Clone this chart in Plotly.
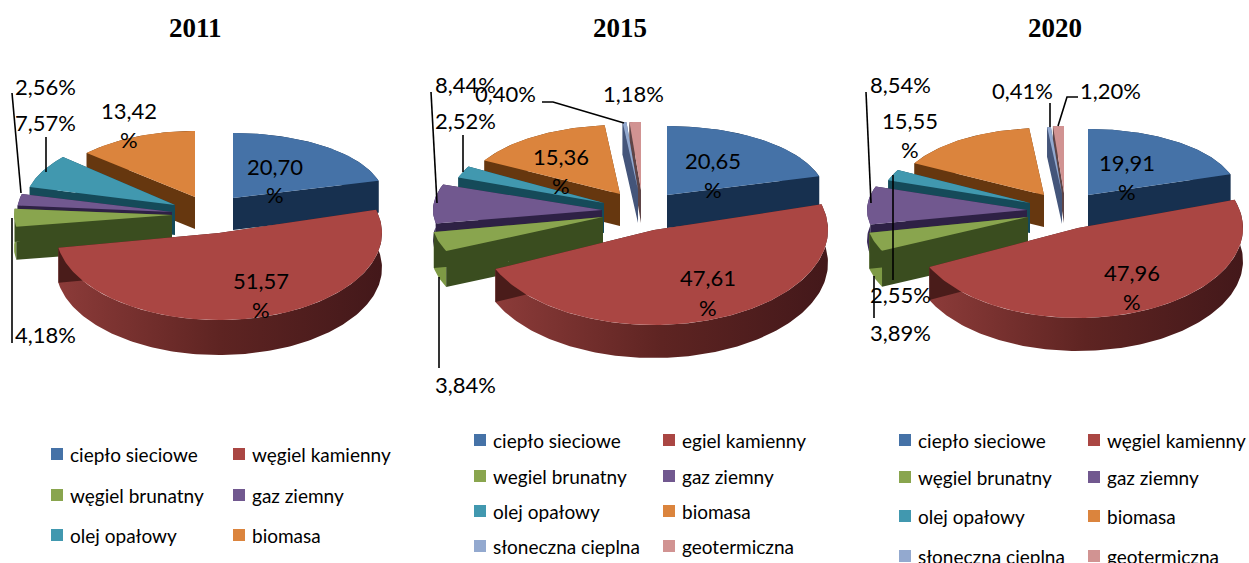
import math
import plotly.graph_objects as go

TITLES = ["2011", "2015", "2020"]
CATS_2011 = ["ciepło sieciowe", "węgiel kamienny", "węgiel brunatny", "gaz ziemny", "olej opałowy", "biomasa"]
CATS_2015 = ["ciepło sieciowe", "egiel kamienny", "wegiel brunatny", "gaz ziemny", "olej opałowy", "biomasa",
             "słoneczna cieplna", "geotermiczna"]
CATS_2020 = ["ciepło sieciowe", "węgiel kamienny", "węgiel brunatny", "gaz ziemny", "olej opałowy", "biomasa",
             "słoneczna cieplna", "geotermiczna"]
VALUES_2011 = [20.70, 51.57, 4.18, 2.56, 7.57, 13.42]
VALUES_2015 = [20.65, 47.61, 3.84, 8.44, 2.52, 15.36, 0.40, 1.18]
VALUES_2020 = [19.91, 47.96, 3.89, 8.54, 2.55, 15.55, 0.41, 1.20]

TOP = ["#4572A7", "#AA4643", "#89A54E", "#71588F", "#4198AF", "#DB843D", "#93A9CF", "#D19392"]
DARK = ["#17304F", "#4A1C1A", "#3A4D1F", "#2E2145", "#154A59", "#66370F", "#44557A", "#5E4446"]
ARC = ["#17304F", None, "#7E9A45", "#3B2C58", "#1D5566", "#66370F", "#44557A", "#5E4446"]
RED_GRADIENT = [[0, "#8C3B39"], [0.5, "#5E2422"], [1, "#43181A"]]

# per slice projection: centre x, centre y, radius x, radius y, depth (perspective differs by slice)
GEOM = {
    "2011": [(233, 198, 151, 65, 32), (219, 233, 163, 87, 35), (172, 215, 158, 69, 33),
             (172, 212, 155, 72, 30), (175, 205, 150, 72, 30), (195, 197, 145, 66, 32)],
    "2015": [(667, 195, 158, 69, 33), (654, 230, 174, 95, 33), (603, 217, 172, 83, 36),
             (602, 210, 169, 75, 30), (604, 203, 155, 75, 30), (620, 194, 155, 69, 32),
             (638, 190, 155, 68, 33), (641, 190, 155, 68, 33)],
    "2020": [(1088, 195, 150, 66, 32), (1078, 228, 165, 90, 33), (1028, 217, 162, 78, 36),
             (1027, 210, 160, 72, 30), (1030, 203, 150, 70, 30), (1044, 195, 147, 67, 32),
             (1062, 194, 147, 67, 30), (1064, 193, 147, 67, 30)],
}
ORDER = {"2011": [5, 4, 3, 2, 0, 1], "2015": [7, 6, 5, 4, 3, 2, 0, 1], "2020": [7, 6, 5, 4, 3, 2, 0, 1]}
TITLE_X = [195, 620, 1055]
TITLE_Y = 28
# label anchor: (x, y) of the number, y of a wrapped "%" or None when on the same line
LABELS = {
    "2011": [(275, 166, 194), (261, 280, 309), (45, 334, None), (45, 86, None), (45, 122, None), (129, 110, 139)],
    "2015": [(713, 160, 189), (708, 277, 307), (465, 384, None), (465, 84, None), (465, 120, None), (561, 156, 185),
             (505, 93, None), (633, 93, None)],
    "2020": [(1127, 162, 191), (1132, 272, 301), (900, 332, None), (900, 84, None), (900, 294, None), (910, 120, 149),
             (1022, 90, None), (1110, 90, None)],
}
LEADERS = {
    "2011": [[(12, 93), (21, 193)], [(46, 137), (46, 172)], [(12, 218), (12, 343)]],
    "2015": [[(431, 92), (437, 203)], [(463, 135), (463, 172)], [(542, 102), (553, 102), (624, 123)],
             [(439, 277), (439, 368)]],
    "2020": [[(866, 92), (871, 203)], [(893, 175), (893, 280)], [(874, 276), (874, 318)],
             [(1050, 103), (1050, 127)], [(1078, 97), (1067, 97), (1058, 126)]],
}
LEGEND = {
    "2011": dict(x=[57, 239], y=[454, 495, 535]),
    "2015": dict(x=[480, 669], y=[440, 476, 511, 546]),
    "2020": dict(x=[905, 1094], y=[440, 477, 516, 556]),
}
FONT = "Lato"
LABEL_SIZE = 22
LEGEND_SIZE = 19


def ccw(poly):
    area = sum(poly[i][0] * poly[(i + 1) % len(poly)][1] - poly[(i + 1) % len(poly)][0] * poly[i][1]
               for i in range(len(poly)))
    return poly if area > 0 else poly[::-1]


def paths(polys):
    xs, ys = [], []
    for poly in polys:
        poly = ccw(poly)
        xs += [p[0] for p in poly] + [poly[0][0], None]
        ys += [p[1] for p in poly] + [poly[0][1], None]
    return xs, ys


def add_area(fig, polys, color, name, gradient=None):
    xs, ys = paths(polys)
    kw = dict(fillgradient=dict(type="horizontal", colorscale=gradient)) if gradient else dict(fillcolor=color)
    fig.add_trace(go.Scatter(x=xs, y=ys, mode="lines", fill="toself", line=dict(width=0), name=name,
                             hoverinfo="name", showlegend=False, **kw))


fig = go.Figure()
annotations = []


def text(x, y, s, size=LABEL_SIZE, family=FONT, anchor="center", bold=False):
    annotations.append(dict(x=x, y=y, xref="x", yref="y", text=f"<b>{s}</b>" if bold else s, showarrow=False,
                            xanchor=anchor, yanchor="middle", align=anchor,
                            font=dict(family=family, size=size, color="#000000")))


ALL = {"2011": (CATS_2011, VALUES_2011), "2015": (CATS_2015, VALUES_2015), "2020": (CATS_2020, VALUES_2020)}
for k, year in enumerate(TITLES):
    cats, vals = ALL[year]
    total = sum(vals)
    cum = [0.0]
    for v in vals:
        cum.append(cum[-1] + v)
    for i in ORDER[year]:
        cx, cy, rx, ry, d = GEOM[year][i]
        a0, a1 = 2 * math.pi * cum[i] / total, 2 * math.pi * cum[i + 1] / total
        n = max(2, int((a1 - a0) / 0.02))
        arc = [(cx + rx * math.sin(a0 + (a1 - a0) * j / n), cy - ry * math.cos(a0 + (a1 - a0) * j / n))
               for j in range(n + 1)]
        arc_low = [(x, y + d) for x, y in arc]
        apex, apex_low = (cx, cy), (cx, cy + d)
        name = f"{year} {cats[i]}"
        add_area(fig, [arc + arc_low[::-1]], ARC[i], name, RED_GRADIENT if i == 1 else None)
        add_area(fig, [[apex, arc[0], arc_low[0], apex_low], [apex, arc[-1], arc_low[-1], apex_low]], DARK[i], name)
        add_area(fig, [[apex] + arc], TOP[i], name)
    for pts in LEADERS[year]:
        fig.add_trace(go.Scatter(x=[p[0] for p in pts], y=[p[1] for p in pts], mode="lines",
                                 line=dict(color="#000000", width=1.6), hoverinfo="skip", showlegend=False))
    for v, (x, y, y2) in zip(vals, LABELS[year]):
        s = f"{v:.2f}".replace(".", ",")
        if y2 is None:
            text(x, y, s + "%")
        else:
            text(x, y, s)
            text(x, y2, "%")
    text(TITLE_X[k], TITLE_Y, year, size=27, family="Liberation Serif", bold=True)
    lg = LEGEND[year]
    for i, c in enumerate(cats):
        lx, ly = lg["x"][i % 2], lg["y"][i // 2]
        fig.add_trace(go.Scatter(x=[lx], y=[ly], mode="markers", marker=dict(symbol="square", size=12, color=TOP[i]),
                                 hoverinfo="skip", showlegend=False))
        text(lx + 11, ly, c, size=LEGEND_SIZE, anchor="left")

fig.update_layout(width=1249, height=563, margin=dict(l=0, r=0, t=0, b=0), paper_bgcolor="#FFFFFF",
                  plot_bgcolor="#FFFFFF", annotations=annotations,
                  xaxis=dict(range=[0, 1249], visible=False, fixedrange=True),
                  yaxis=dict(range=[563, 0], visible=False, fixedrange=True))
fig.write_html("out.html", config=dict(displayModeBar=False), post_script="document.body.style.margin='0';")
